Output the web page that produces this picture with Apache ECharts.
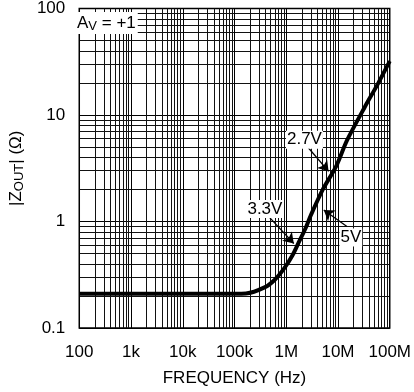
<!DOCTYPE html>
<html><head><meta charset="utf-8">
<script src="https://cdn.jsdelivr.net/npm/echarts@6/dist/echarts.min.js"></script>
<style>html,body{margin:0;padding:0;background:#fff}#c{width:414px;height:392px}</style>
</head><body><div id="c"></div>
<script>
// Data
var freqs = [100, 1e3, 1e4, 1e5, 1.66e5, 3.9e5, 6.0e5, 9.2e5, 1.33e6, 1.75e6, 2.35e6, 3.0e6, 5.1e6, 9.2e6, 1.5e7, 3.3e7, 5.9e7, 1e8];
var zout  = [0.21, 0.21, 0.21, 0.21, 0.211, 0.242, 0.284, 0.365, 0.485, 0.64, 0.86, 1.15, 2.0, 3.3, 5.8, 11.9, 19.6, 32];
var xTickLabels = ['100', '1k', '10k', '100k', '1M', '10M', '100M'];
var yTickLabels = ['0.1', '1', '10', '100'];
// annotations: [label, labelX, labelY, arrowFromX, arrowFromY, arrowToX, arrowToY]
var notes = [
  ['2.7V', 2.25e6, 5.85, 2.67e6, 4.93, 6.58e6, 2.96],
  ['3.3V', 3.87e5, 1.31, 4.6e5, 1.11, 1.40e6, 0.622],
  ['5V', 1.77e7, 0.708, 1.49e7, 0.896, 5.31e6, 1.28]
];

var FONT = "'Liberation Sans', Arial, sans-serif";
var FS = 17;
var chart = echarts.init(document.getElementById('c'));
var data = freqs.map(function (f, i) { return [f, zout[i]]; });

function xLab(v) {
  var k = Math.round(Math.log10(v)) - 2;
  return xTickLabels[k] !== undefined ? xTickLabels[k] : '';
}
function yLab(v) {
  var k = Math.round(Math.log10(v)) + 1;
  return yTickLabels[k] !== undefined ? yTickLabels[k] : '';
}

chart.setOption({
  animation: false,
  backgroundColor: '#fff',
  grid: { left: 70.5, right: 21.6, top: 7, bottom: 61.3, show: true, borderColor: '#000', borderWidth: 1.5, backgroundColor: 'transparent' },
  xAxis: {
    type: 'log', logBase: 10, min: 100, max: 1e8,
    name: 'FREQUENCY (Hz)', nameLocation: 'middle', nameGap: 42,
    nameTextStyle: { fontFamily: FONT, fontSize: FS, color: '#000' },
    axisLine: { show: false }, axisTick: { show: false },
    axisLabel: { formatter: xLab, fontFamily: FONT, fontSize: FS, color: '#000', margin: 16 },
    splitLine: { show: true, lineStyle: { color: '#000', width: 1 } },
    minorTick: { show: false, splitNumber: 9 },
    minorSplitLine: { show: true, lineStyle: { color: '#111', width: 1 } }
  },
  yAxis: {
    type: 'log', logBase: 10, min: 0.1, max: 100,
    name: '{n||Z}{s|OUT}{n|| (Ω)}', nameLocation: 'middle', nameGap: 46, nameRotate: 90,
    nameTextStyle: { fontFamily: FONT, fontSize: FS, color: '#000',
      rich: { n: { fontFamily: FONT, fontSize: FS, color: '#000' }, s: { fontFamily: FONT, fontSize: 13, color: '#000', padding: [6, 0, 0, 0] } } },
    axisLine: { show: false }, axisTick: { show: false },
    axisLabel: { formatter: yLab, fontFamily: FONT, fontSize: FS, color: '#000', margin: 14 },
    splitLine: { show: true, lineStyle: { color: '#000', width: 1 } },
    minorTick: { show: false, splitNumber: 9 },
    minorSplitLine: { show: true, lineStyle: { color: '#111', width: 1 } }
  },
  series: [{
    type: 'line', data: data, smooth: 0.3, symbol: 'none',
    lineStyle: { color: '#000', width: 4 },
    z: 5,
    markLine: {
      silent: true, symbol: ['none', 'arrow'], symbolSize: 10,
      lineStyle: { color: '#000', width: 1.3, type: 'solid' },
      itemStyle: { color: '#000' },
      label: { show: false },
      data: notes.map(function (n) { return [{ coord: [n[3], n[4]] }, { coord: [n[5], n[6]] }]; })
    },
    markPoint: {
      silent: true, symbol: 'circle', symbolSize: 0,
      label: { show: true, position: 'inside', fontFamily: FONT, fontSize: FS, color: '#000', backgroundColor: '#fff', padding: [1, 1, 0, 1] },
      data: notes.map(function (n) { return { coord: [n[1], n[2]], value: n[0], label: { formatter: n[0] } }; })
    }
  }],
  graphic: [{
    type: 'text', left: 72, top: 12, z: 10,
    style: {
      text: '{a|A}{s|V}{a| = +1}', backgroundColor: '#fff', padding: [1, 2, 1, 5],
      rich: { a: { fontFamily: FONT, fontSize: FS, fill: '#000' }, s: { fontFamily: FONT, fontSize: 13, fill: '#000', padding: [7, 0, 0, 0] } }
    }
  }]
});
</script></body></html>
